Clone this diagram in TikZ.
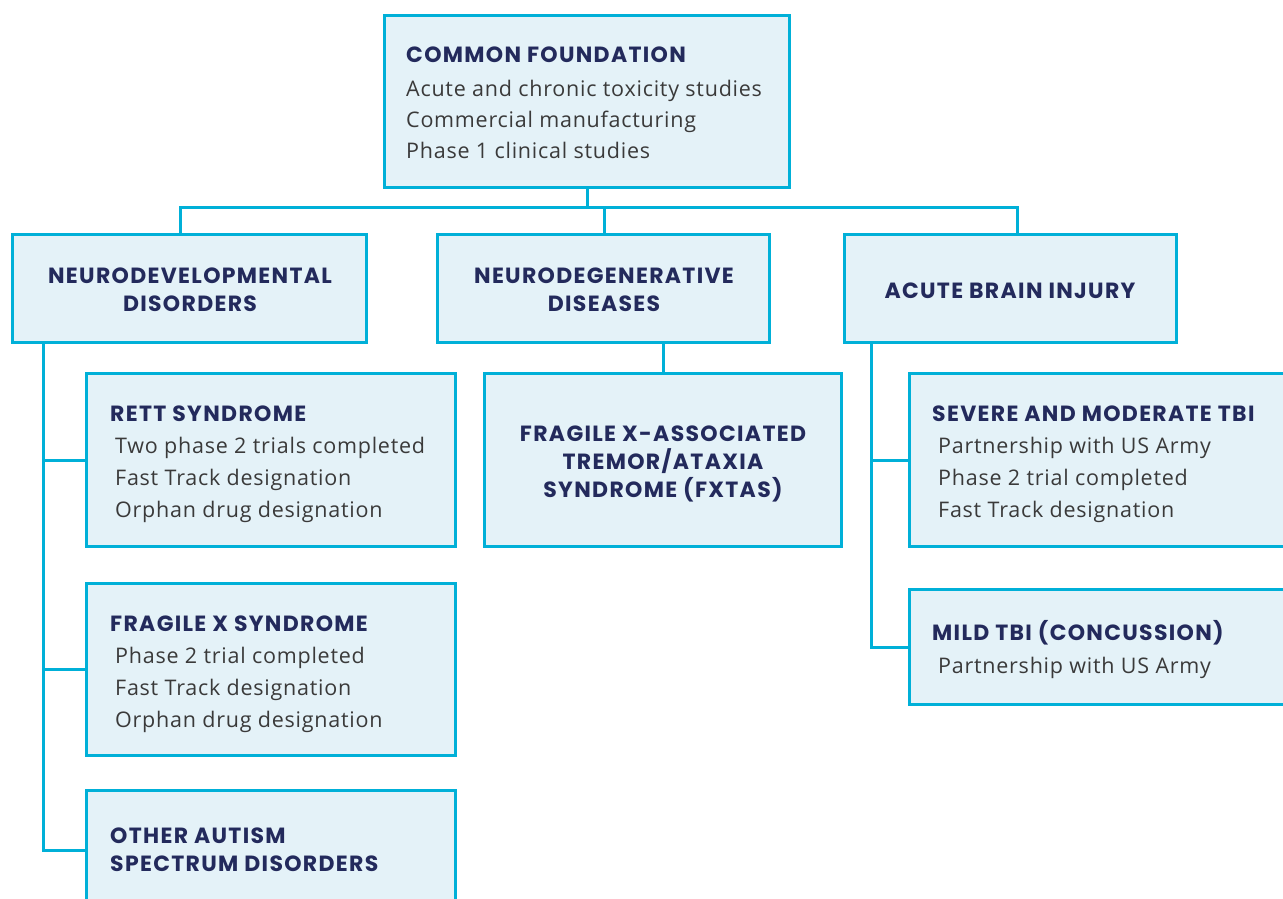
\documentclass[tikz,border=0pt]{standalone}
\usepackage{fontspec}
\setmainfont{Open Sans}[LetterSpace=3.5]
\newfontfamily\hdfont{Poppins}[LetterSpace=6]
\definecolor{edge}{HTML}{00B0D8}
\definecolor{boxfill}{HTML}{E4F2F8}
\definecolor{navy}{HTML}{232A5C}
\definecolor{bodygray}{HTML}{3A3A3A}
\tikzset{
  box/.style={draw=edge, fill=boxfill, line width=3pt, inner sep=0pt, rectangle},
  conn/.style={draw=edge, line width=3pt},
  hd/.style={inner sep=0pt, text=navy, font=\hdfont\bfseries\fontsize{22}{28}\selectfont},
  bd/.style={inner sep=0pt, text=bodygray, font=\fontsize{21.5}{32}\selectfont, anchor=base west},
}
\begin{document}
\begin{tikzpicture}[x=1pt, y=-1pt]
\useasboundingbox (0,0) rectangle (1283,899);
\clip (0,0) rectangle (1283,899);
% boxes
\node[box, minimum width=405, minimum height=172] (top) at (587,101.5) {};
\node[box, minimum width=354, minimum height=108] (nd) at (189.5,288.5) {};
\node[box, minimum width=332, minimum height=108] (ndg) at (603.5,288.5) {};
\node[box, minimum width=332, minimum height=108] (ab) at (1010.5,288.5) {};
\node[box, minimum width=369, minimum height=173] (rett) at (271,460) {};
\node[box, minimum width=369, minimum height=172] (fx) at (271,669.5) {};
\node[box, minimum width=369, minimum height=119] (oa) at (271,850) {};
\node[box, minimum width=357, minimum height=173] (fxtas) at (663,460) {};
\node[box, minimum width=389, minimum height=173] (sev) at (1104,460) {};
\node[box, minimum width=389, minimum height=115] (mild) at (1104,647) {};
% connectors
\coordinate (barL) at (180,207);
\coordinate (barR) at (1017,207);
\coordinate (barM) at (604,207);
\draw[conn] (top.south) -- (top.south |- barL);
\draw[conn] (nd.north -| barL) -- (barL) -- (barR) -- (ab.north -| barR);
\draw[conn] (barM) -- (ndg.north -| barM);
\coordinate (ltrunk) at (43,0);
\draw[conn] (nd.south -| ltrunk) |- (oa.west);
\draw[conn] (ltrunk |- rett.west) -- (rett.west);
\draw[conn] (ltrunk |- fx.west) -- (fx.west);
\draw[conn] (ndg.south -| fxtas.north) -- (fxtas.north);
\coordinate (rtrunk) at (871,0);
\draw[conn] (ab.south -| rtrunk) |- (mild.west);
\draw[conn] (rtrunk |- sev.west) -- (sev.west);
% top text
\node[hd, anchor=base west] (t0) at (406,63) {COMMON FOUNDATION};
\node[bd] (t1) at (406,96) {Acute and chronic toxicity studies};
\node[bd] (t2) at (406,127) {Commercial manufacturing};
\node[bd] (t3) at (406,158) {Phase 1 clinical studies};
% level 2
\node[hd, anchor=base] (nd1) at (190,283) {NEURODEVELOPMENTAL};
\node[hd, anchor=base] (nd2) at (190,311) {DISORDERS};
\node[hd, anchor=base] (ng1) at (604,283) {NEURODEGENERATIVE};
\node[hd, anchor=base] (ng2) at (604,311) {DISEASES};
\node[hd, anchor=base] (ab1) at (1010,298) {ACUTE BRAIN INJURY};
% rett
\node[hd, anchor=base west] (r0) at (110,421) {RETT SYNDROME};
\node[bd] (r1) at (115,453) {Two phase 2 trials completed};
\node[bd] (r2) at (115,485) {Fast Track designation};
\node[bd] (r3) at (115,517) {Orphan drug designation};
% fragile x
\node[hd, anchor=base west] (f0) at (110,631) {FRAGILE X SYNDROME};
\node[bd] (f1) at (115,663) {Phase 2 trial completed};
\node[bd] (f2) at (115,695) {Fast Track designation};
\node[bd] (f3) at (115,727) {Orphan drug designation};
% other autism
\node[hd, anchor=base west] (o1) at (110,843) {OTHER AUTISM};
\node[hd, anchor=base west] (o2) at (110,871) {SPECTRUM DISORDERS};
% fxtas
\node[hd, anchor=base] (x1) at (663,441) {FRAGILE X-ASSOCIATED};
\node[hd, anchor=base] (x2) at (663,469) {TREMOR/ATAXIA};
\node[hd, anchor=base] (x3) at (663,497) {SYNDROME (FXTAS)};
% severe
\node[hd, anchor=base west] (s0) at (932,421) {SEVERE AND MODERATE TBI};
\node[bd] (s1) at (938,453) {Partnership with US Army};
\node[bd] (s2) at (938,485) {Phase 2 trial completed};
\node[bd] (s3) at (938,517) {Fast Track designation};
% mild
\node[hd, anchor=base west] (m0) at (932,640) {MILD TBI (CONCUSSION)};
\node[bd] (m1) at (938,673) {Partnership with US Army};
\end{tikzpicture}
\end{document}
